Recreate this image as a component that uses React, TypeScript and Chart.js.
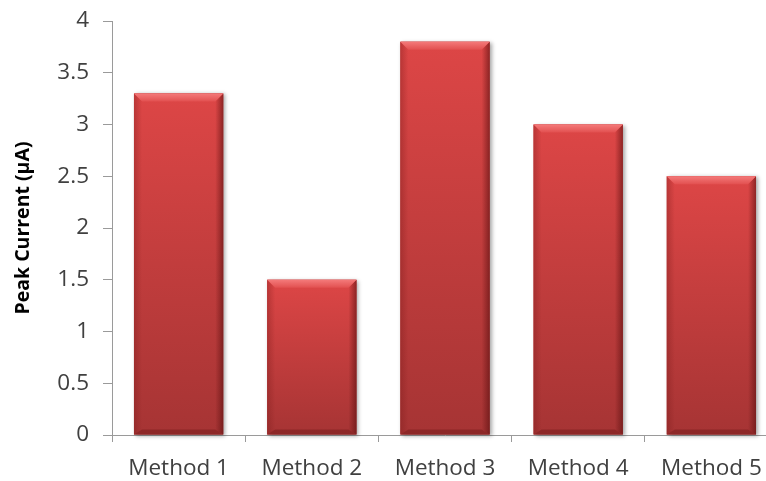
import React, { useEffect, useRef } from "react";
import { Chart, registerables } from "chart.js";

Chart.register(...registerables);

const categories = ["Method 1", "Method 2", "Method 3", "Method 4", "Method 5"];
const peakCurrent = [3.3, 1.5, 3.8, 3.0, 2.5];
const yTicks = [0, 0.5, 1, 1.5, 2, 2.5, 3, 3.5, 4];

const FONT = "'Open Sans', 'Liberation Sans', sans-serif";
const TEXT = "#404040";
const AXIS = "#9a9a9a";

// Beveled red fill drawn over each bar, using the bar geometry the library computed.
const bevelPlugin = {
  id: "bevelBars",
  afterDatasetDraw(chart: any, args: any) {
    const meta = chart.getDatasetMeta(args.index);
    const ctx: CanvasRenderingContext2D = chart.ctx;
    meta.data.forEach((bar: any) => {
      const { x, y, base, width } = bar.getProps(["x", "y", "base", "width"], true);
      const l = x - width / 2;
      const r = x + width / 2;
      const t = Math.min(y, base);
      const b = Math.max(y, base);
      const bv = 8;
      const bb = 5;

      ctx.save();
      // soft shadow
      ctx.shadowColor = "rgba(0,0,0,0.35)";
      ctx.shadowBlur = 4;
      ctx.shadowOffsetX = 2;
      ctx.shadowOffsetY = 1;
      const body = ctx.createLinearGradient(0, t, 0, b);
      body.addColorStop(0, "#dd4646");
      body.addColorStop(1, "#a63434");
      ctx.fillStyle = body;
      ctx.fillRect(l, t, r - l, b - t);
      ctx.restore();

      ctx.save();
      // left bevel
      const lg = ctx.createLinearGradient(l, 0, l + bv, 0);
      lg.addColorStop(0, "rgba(120,25,25,0.35)");
      lg.addColorStop(1, "rgba(120,25,25,0.0)");
      ctx.fillStyle = lg;
      ctx.beginPath();
      ctx.moveTo(l, t);
      ctx.lineTo(l + bv, t + bv);
      ctx.lineTo(l + bv, b - bb);
      ctx.lineTo(l, b);
      ctx.closePath();
      ctx.fill();

      // right bevel
      const rg = ctx.createLinearGradient(r - bv, 0, r, 0);
      rg.addColorStop(0, "rgba(90,15,15,0.0)");
      rg.addColorStop(1, "rgba(90,15,15,0.6)");
      ctx.fillStyle = rg;
      ctx.beginPath();
      ctx.moveTo(r, t);
      ctx.lineTo(r - bv, t + bv);
      ctx.lineTo(r - bv, b - bb);
      ctx.lineTo(r, b);
      ctx.closePath();
      ctx.fill();

      // top bevel
      const tg = ctx.createLinearGradient(0, t, 0, t + bv);
      tg.addColorStop(0, "#f47a7a");
      tg.addColorStop(1, "#e25050");
      ctx.fillStyle = tg;
      ctx.beginPath();
      ctx.moveTo(l, t);
      ctx.lineTo(r, t);
      ctx.lineTo(r - bv, t + bv);
      ctx.lineTo(l + bv, t + bv);
      ctx.closePath();
      ctx.fill();

      // bottom bevel
      ctx.fillStyle = "rgba(110,25,25,0.45)";
      ctx.beginPath();
      ctx.moveTo(l, b);
      ctx.lineTo(r, b);
      ctx.lineTo(r - bv, b - bb);
      ctx.lineTo(l + bv, b - bb);
      ctx.closePath();
      ctx.fill();
      ctx.restore();
    });
  },
};

export default function App() {
  const ref = useRef<HTMLCanvasElement | null>(null);

  useEffect(() => {
    document.documentElement.style.overflow = "hidden";
    document.body.style.overflow = "hidden";
    const canvas = ref.current;
    if (!canvas) return;
    const chart = new Chart(canvas, {
      type: "bar",
      data: {
        labels: categories,
        datasets: [
          {
            data: peakCurrent,
            backgroundColor: "#c43c3c",
            borderWidth: 0,
            categoryPercentage: 1,
            barPercentage: 0.67,
          },
        ],
      },
      options: {
        animation: false,
        responsive: false,
        devicePixelRatio: 1,
        layout: { padding: { top: 21, right: 12, bottom: 0, left: 0 } },
        plugins: { legend: { display: false }, tooltip: { enabled: false } },
        scales: {
          x: {
            grid: {
              display: true,
              drawOnChartArea: false,
              drawTicks: true,
              tickLength: 7,
              color: AXIS,
              offset: true,
            },
            border: { display: true, color: AXIS, width: 1 },
            ticks: {
              color: TEXT,
              font: { family: FONT, size: 22.5 },
              padding: 13,
              maxRotation: 0,
            },
            afterFit(scale: any) {
              scale.height = 46;
            },
          },
          y: {
            min: 0,
            max: 4,
            afterBuildTicks(scale: any) {
              scale.ticks = yTicks.map((v) => ({ value: v }));
            },
            grid: {
              display: true,
              drawOnChartArea: false,
              drawTicks: true,
              tickLength: 9,
              color: AXIS,
            },
            border: { display: true, color: AXIS, width: 1 },
            ticks: {
              color: TEXT,
              font: { family: FONT, size: 22.5 },
              padding: 14,
              callback: (v: any) => String(v),
            },
            title: {
              display: true,
              text: "Peak Current (μA)",
              color: "#000000",
              font: { family: FONT, size: 19.5, weight: "bold" },
              padding: { top: 12, bottom: 0 },
            },
            afterFit(scale: any) {
              scale.width = 112;
              scale.paddingTop = 0;
              scale.paddingBottom = 0;
            },
          },
        },
      },
      plugins: [bevelPlugin],
    });
    return () => chart.destroy();
  }, []);

  return (
    <div style={{ position: "fixed", left: 0, top: 0, width: 790, height: 481, background: "#ffffff" }}>
      <canvas ref={ref} width={790} height={481} style={{ width: 790, height: 481, display: "block" }} />
    </div>
  );
}
